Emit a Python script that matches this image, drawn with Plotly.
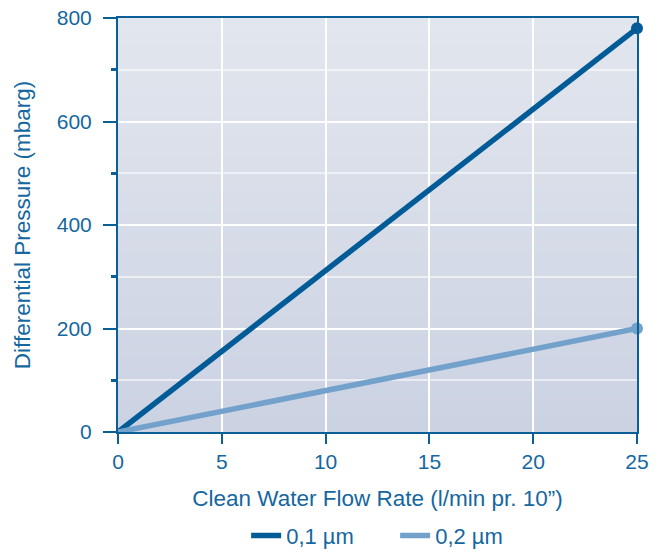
import plotly.graph_objects as go

flow_rate = [0, 25]
dp_01 = [0, 780]
dp_02 = [0, 200]
series_names = ["0,1 µm", "0,2 µm"]
x_ticks = [0, 5, 10, 15, 20, 25]
y_ticks = [0, 200, 400, 600, 800]
y_minor = [100, 300, 500, 700]

dark = "#005b97"
light = "#72a1cb"
axis_c = "#0b5f97"
text_c = "#1567a0"

fig = go.Figure()
for ys, name, col in [(dp_01, series_names[0], dark), (dp_02, series_names[1], light)]:
    fig.add_trace(go.Scatter(x=flow_rate, y=ys, name=name, mode="lines",
                             line=dict(color=col, width=5.5), cliponaxis=False))
    fig.add_trace(go.Scatter(x=flow_rate[-1:], y=ys[-1:], mode="markers", showlegend=False,
                             marker=dict(size=12, color=col), cliponaxis=False, hoverinfo="skip"))

# vertical gradient background
n = 60
top = (226, 230, 238)
bot = (203, 210, 226)
for i in range(n):
    t = i / (n - 1)
    c = tuple(round(top[k] + (bot[k] - top[k]) * t) for k in range(3))
    fig.add_shape(type="rect", xref="x domain", yref="y domain",
                  x0=0, x1=1, y0=max(0, 1 - (i + 1) / n - 0.004), y1=1 - i / n,
                  fillcolor="rgb(%d,%d,%d)" % c, line_width=0, layer="below")

fig.update_layout(
    width=659, height=553,
    margin=dict(l=118, r=22, t=18, b=121, autoexpand=False),
    paper_bgcolor="white", plot_bgcolor="rgba(0,0,0,0)",
    font=dict(family="Liberation Sans, Arial", color=text_c, size=21),
    showlegend=True,
    legend=dict(orientation="h", x=0.534, xanchor="center", y=-0.2, yanchor="top",
                font=dict(size=22, color=text_c), traceorder="normal",
                entrywidth=104, entrywidthmode="pixels"),
)
fig.update_xaxes(
    range=[0, 25], tickvals=x_ticks, ticks="outside", ticklen=10, tickwidth=2, tickcolor=axis_c,
    showline=True, linecolor=axis_c, linewidth=2, mirror=True, automargin=False,
    showgrid=True, gridcolor="white", gridwidth=2, zeroline=False,
    title=dict(text="Clean Water Flow Rate (l/min pr. 10”)", font=dict(size=22.5), standoff=18),
    tickfont=dict(size=21),
)
fig.update_yaxes(
    range=[0, 800], tickvals=y_ticks, ticks="outside", ticklen=13, tickwidth=2, tickcolor=axis_c,
    showline=True, linecolor=axis_c, linewidth=2, mirror=True, automargin=False,
    showgrid=True, gridcolor="white", gridwidth=2, zeroline=False,
    minor=dict(tickvals=y_minor, ticks="outside", ticklen=5, tickwidth=3,
               tickcolor=axis_c, showgrid=True, gridcolor="rgba(255,255,255,0.55)", gridwidth=2),
    title=dict(text="Differential Pressure (mbarg)", font=dict(size=22.5), standoff=20),
    tickfont=dict(size=21), ticklabelstandoff=7,
)

fig.write_html("out.html", config={"displayModeBar": False},
               post_script="document.body.style.margin='0';")
